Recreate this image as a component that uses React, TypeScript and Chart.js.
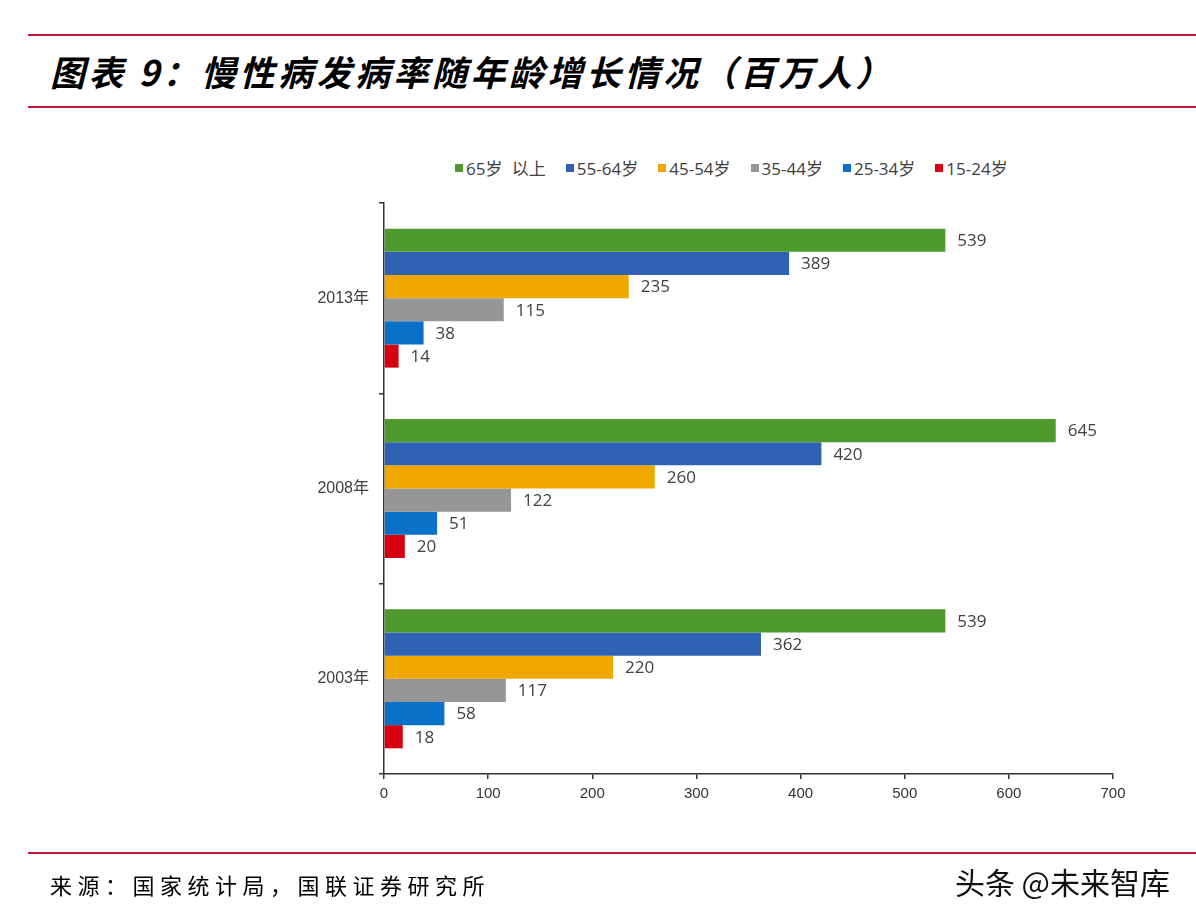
import React, { useEffect, useRef } from 'react';
import { Chart, registerables } from 'chart.js';

Chart.register(...registerables);

const years = ['2013年', '2008年', '2003年'];
const seriesNames = ['65岁 以上', '55-64岁', '45-54岁', '35-44岁', '25-34岁', '15-24岁'];
const age65plus = [539, 645, 539];
const age55to64 = [389, 420, 362];
const age45to54 = [235, 260, 220];
const age35to44 = [115, 122, 117];
const age25to34 = [38, 51, 58];
const age15to24 = [14, 20, 18];
const seriesValues = [age65plus, age55to64, age45to54, age35to44, age25to34, age15to24];
const seriesColors = ['#4E9A2E', '#2F62B3', '#F0A800', '#969696', '#0A71C8', '#D6000E'];
const xMin = 0;
const xMax = 700;
const xStep = 100;

const titleText = '图表 9：慢性病发病率随年龄增长情况（百万人）';
const sourceText = '来源：国家统计局，国联证券研究所';
const watermarkText = '头条 @未来智库';

const FONT = "'Open Sans', 'Noto Sans CJK SC', sans-serif";

const valueLabels = {
  id: 'valueLabels',
  afterDatasetsDraw(chart: any) {
    const ctx = chart.ctx;
    ctx.save();
    ctx.font = `17px ${FONT}`;
    ctx.fillStyle = '#404040';
    ctx.textAlign = 'left';
    ctx.textBaseline = 'middle';
    chart.data.datasets.forEach((ds: any, i: number) => {
      const meta = chart.getDatasetMeta(i);
      meta.data.forEach((el: any, j: number) => {
        ctx.fillText(String(ds.data[j]), el.x + 12, el.y + 1);
      });
    });
    ctx.restore();
  },
};

export default function App() {
  const canvasRef = useRef<HTMLCanvasElement | null>(null);

  useEffect(() => {
    const canvas = canvasRef.current;
    if (!canvas) return;
    const chart = new Chart(canvas, {
      type: 'bar',
      data: {
        labels: years,
        datasets: seriesNames.map((name, i) => ({
          label: name,
          data: seriesValues[i],
          backgroundColor: seriesColors[i],
          borderWidth: 0,
          categoryPercentage: 0.73,
          barPercentage: 1.0,
        })),
      },
      options: {
        indexAxis: 'y',
        responsive: false,
        animation: false,
        maintainAspectRatio: false,
        layout: { padding: { left: 0, right: 83, top: 203, bottom: 110 } },
        plugins: {
          legend: { display: false },
          tooltip: { enabled: false },
        },
        scales: {
          y: {
            type: 'category',
            offset: true,
            grid: {
              display: true,
              drawOnChartArea: false,
              drawTicks: true,
              tickLength: 5,
              color: '#333333',
              lineWidth: 1.5,
              offset: true,
            },
            border: { display: true, color: '#333333', width: 1.5 },
            ticks: {
              color: '#404040',
              font: { family: "'Liberation Sans', 'Noto Sans CJK SC', sans-serif", size: 16 },
              padding: 10,
            },
            afterFit(scale: any) {
              scale.width = 384;
            },
          },
          x: {
            type: 'linear',
            min: xMin,
            max: xMax,
            ticks: {
              stepSize: xStep,
              color: '#333333',
              font: { family: "'Liberation Sans', sans-serif", size: 15 },
              padding: 6,
            },
            grid: {
              display: true,
              drawOnChartArea: false,
              drawTicks: true,
              tickLength: 5,
              color: '#333333',
              lineWidth: 1.5,
            },
            border: { display: true, color: '#333333', width: 1.5 },
            afterFit(scale: any) {
              scale.height = 40;
            },
          },
        },
      },
      plugins: [valueLabels],
    });
    return () => chart.destroy();
  }, []);

  const redLine = (top: number): React.CSSProperties => ({
    position: 'absolute',
    left: 28,
    right: 0,
    top,
    height: 2,
    background: '#C4153A',
  });

  return (
    <div
      style={{
        position: 'fixed',
        left: 0,
        top: 0,
        width: 1196,
        height: 924,
        background: '#ffffff',
        overflow: 'hidden',
      }}
    >
      <div style={redLine(34)} />
      <div
        style={{
          position: 'absolute',
          left: 50,
          top: 46,
          fontFamily: "'Noto Sans CJK SC', sans-serif",
          fontWeight: 700,
          fontStyle: 'italic',
          fontSize: 35,
          letterSpacing: 3.5,
          lineHeight: '50px',
          color: '#000',
          whiteSpace: 'nowrap',
        }}
      >
        {titleText}
      </div>
      <div style={redLine(106)} />

      <div
        style={{
          position: 'absolute',
          left: 455,
          top: 155,
          display: 'flex',
          alignItems: 'center',
          gap: 20,
          fontFamily: FONT,
          fontSize: 17,
          wordSpacing: 5,
          color: '#404040',
          whiteSpace: 'pre',
        }}
      >
        {seriesNames.map((n, i) => (
          <div key={n} style={{ display: 'flex', alignItems: 'center' }}>
            <span
              style={{
                display: 'inline-block',
                width: 8,
                height: 8,
                background: seriesColors[i],
                marginRight: 3,
              }}
            />
            <span>{n}</span>
          </div>
        ))}
      </div>

      <canvas
        ref={canvasRef}
        width={1196}
        height={924}
        style={{ position: 'absolute', left: 0, top: 0, width: 1196, height: 924 }}
      />

      <div style={redLine(852)} />
      <div
        style={{
          position: 'absolute',
          left: 50,
          top: 868,
          fontFamily: "'Noto Sans CJK SC', sans-serif",
          fontSize: 22,
          letterSpacing: 5.5,
          lineHeight: '32px',
          color: '#000',
          whiteSpace: 'nowrap',
        }}
      >
        {sourceText}
      </div>
      <div
        style={{
          position: 'absolute',
          right: 26,
          top: 862,
          fontFamily: "'Noto Sans CJK SC', sans-serif",
          fontSize: 30,
          lineHeight: '38px',
          color: '#111',
          whiteSpace: 'nowrap',
        }}
      >
        {watermarkText}
      </div>
    </div>
  );
}
